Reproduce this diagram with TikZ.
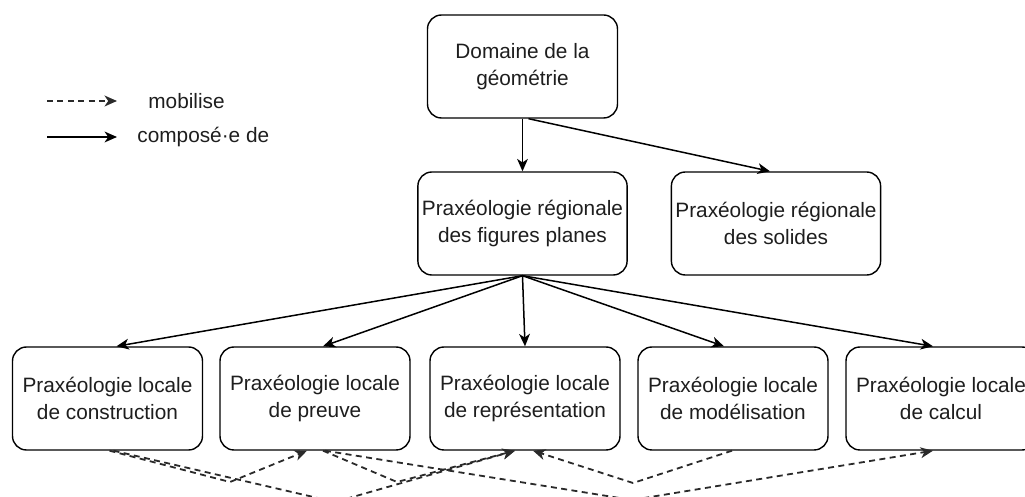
\documentclass[tikz,border=0pt]{standalone}
\usepackage{fontspec}
\setmainfont{Liberation Sans}
\usetikzlibrary{arrows.meta,positioning,calc}
\definecolor{ink}{HTML}{000000}
\definecolor{dashink}{HTML}{2A2A2A}
\definecolor{txtink}{HTML}{1E1E1E}
\tikzset{
  praxbox/.style={draw=ink,fill=white,line width=0.7pt,rounded corners=7pt,
                  minimum width=95pt,minimum height=51.5pt,align=center,text=txtink,
                  font=\fontsize{10.4}{13.5}\selectfont,inner sep=2pt},
  composarr/.style={-{Stealth[length=6.2pt,width=5.4pt,inset=1.8pt]},line width=0.75pt,color=ink},
  mobilarr/.style={-{Stealth[length=6.2pt,width=5.4pt,inset=1.8pt]},line width=0.9pt,
                   color=dashink,dash pattern=on 3pt off 2.2pt},
  legendtext/.style={anchor=west,inner sep=0pt,text=txtink,font=\fontsize{10.4}{13.5}\selectfont}
}

\begin{document}
\begin{tikzpicture}[x=0.5pt,y=-0.5pt]
  \useasboundingbox (0,0) rectangle (1025,497);

  % legend
  \coordinate (mobA) at (47,101);
  \coordinate (mobB) at (117,101);
  \coordinate (comA) at (47,137);
  \coordinate (comB) at (117,137);
  \draw[mobilarr] (mobA) -- (mobB);
  \draw[composarr] (comA) -- (comB);
  \node[legendtext] (mobtxt) at (148,101) {mobilise};
  \node[legendtext] (comtxt) at (137,137) {composé·e de};

  % domain and regional praxeologies
  \node[praxbox] (dom) at (522.5,66.5) {Domaine de la\\géométrie};
  \node[praxbox] (fig) at (522.5,223.5) {Praxéologie régionale\\des figures planes};
  \node[praxbox] (sol) at (776,223.5) {Praxéologie régionale\\des solides};
  \draw[composarr] (dom.south) -- (fig.north);
  \draw[composarr] ($(dom.south)+(6,0)$) -- ($(sol.north)+(-6,0)$);

  % local praxeologies
  \node[praxbox] (cons) at (107.5,398.5) {Praxéologie locale\\de construction};
  \node[praxbox] (preu) at (315,398.5) {Praxéologie locale\\de preuve};
  \node[praxbox] (repr) at (525,398.5) {Praxéologie locale\\de représentation};
  \node[praxbox] (mode) at (733,398.5) {Praxéologie locale\\de modélisation};
  \node[praxbox] (calc) at (941,398.5) {Praxéologie locale\\de calcul};
  \draw[composarr] (fig.south) -- ($(cons.north)+(9,0)$);
  \draw[composarr] (fig.south) -- ($(preu.north)+(8,0)$);
  \draw[composarr] (fig.south) -- (repr.north);
  \draw[composarr] (fig.south) -- ($(mode.north)+(-9,0)$);
  \draw[composarr] (fig.south) -- ($(calc.north)+(-8,0)$);

  % mobilise links
  \draw[mobilarr] ($(cons.south)+(2,0)$) -- (230,482) -- ($(preu.south)+(-8,0)$);
  \draw[mobilarr] ($(cons.south)+(6,0)$) -- (335,502) -- ($(repr.south)+(-10,0)$);
  \draw[mobilarr] ($(preu.south)+(8,0)$) -- (397,482) -- ($(repr.south)+(-10,0)$);
  \draw[mobilarr] ($(preu.south)+(10,0)$) -- (632,500) -- ($(calc.south)+(-8,0)$);
  \draw[mobilarr] ($(mode.south)+(-1,0)$) -- (633,483) -- ($(repr.south)+(8,0)$);
\end{tikzpicture}
\end{document}
